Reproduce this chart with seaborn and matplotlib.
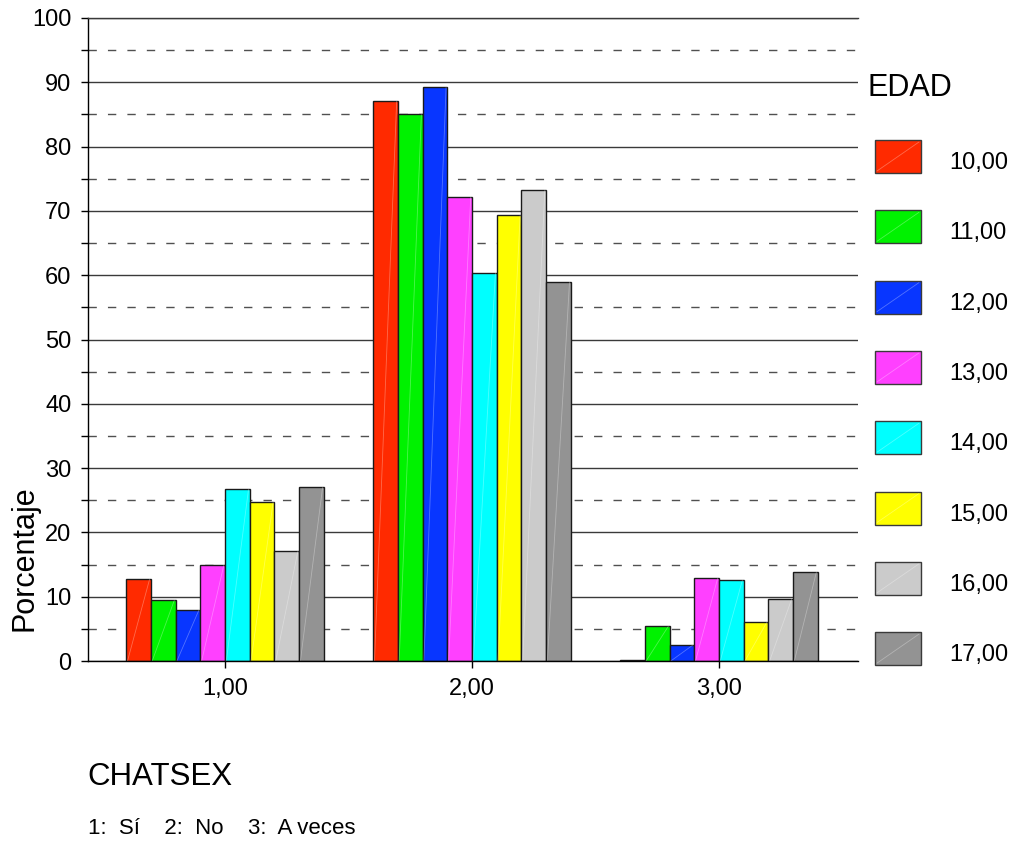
import matplotlib
matplotlib.use("Agg")
import numpy as np
import pandas as pd
import seaborn as sns
import matplotlib.pyplot as plt
from matplotlib.patches import Rectangle
from matplotlib.ticker import MultipleLocator

# ---- data ----
categories = ["1,00", "2,00", "3,00"]
ages = ["10,00", "11,00", "12,00", "13,00", "14,00", "15,00", "16,00", "17,00"]
v10 = [12.8, 87.1, 0.2]
v11 = [9.5, 85.0, 5.4]
v12 = [8.0, 89.2, 2.5]
v13 = [14.9, 72.2, 12.9]
v14 = [26.7, 60.4, 12.6]
v15 = [24.8, 69.3, 6.1]
v16 = [17.1, 73.3, 9.7]
v17 = [27.0, 59.0, 13.9]
series = [v10, v11, v12, v13, v14, v15, v16, v17]
colors = ["#FF2A00", "#00F200", "#0836FF", "#FF40FF", "#00FFFF", "#FFFF00", "#CBCBCB", "#939393"]

rows = []
for age, vals in zip(ages, series):
    for cat, v in zip(categories, vals):
        rows.append({"CHATSEX": cat, "EDAD": age, "Porcentaje": v})
df = pd.DataFrame(rows)

sns.set_style("white")
plt.rcParams["font.family"] = ["Liberation Sans", "DejaVu Sans"]
plt.rcParams["text.color"] = "black"
plt.rcParams["axes.labelcolor"] = "black"
plt.rcParams["xtick.color"] = "black"
plt.rcParams["ytick.color"] = "black"

W, H = 1013, 850
fig = plt.figure(figsize=(W / 100, H / 100), dpi=100)
ax = fig.add_axes([88 / W, 1 - 661 / H, 770 / W, 643 / H])

sns.barplot(data=df, x="CHATSEX", y="Porcentaje", hue="EDAD",
            order=categories, hue_order=ages, palette=colors,
            saturation=1, width=0.8, errorbar=None,
            edgecolor="#1a1a1a", linewidth=1, legend=False, ax=ax)

# faint diagonal texture on each bar
for p in list(ax.patches):
    x0, y0, w, h = p.get_x(), p.get_y(), p.get_width(), p.get_height()
    if h > 0.5:
        ax.plot([x0 + w * 0.05, x0 + w * 0.95], [y0, y0 + h], color="white",
                alpha=0.3, lw=0.6, zorder=p.get_zorder() + 0.1)

ax.set_ylim(0, 100)
ax.set_xlim(-0.555, 2.563)
ax.yaxis.set_major_locator(MultipleLocator(10))
ax.yaxis.set_minor_locator(MultipleLocator(5))
ax.set_axisbelow(True)
ax.grid(which="major", axis="y", color="#3a3a3a", lw=1, ls="-")
ax.grid(which="minor", axis="y", color="#505050", lw=1, ls=(0, (6, 8)))
ax.grid(axis="x", visible=False)

ax.set_xlabel("")
ax.set_ylabel("")
ax.tick_params(axis="both", which="both", direction="out", length=5, width=1,
               color="black", labelcolor="black", labelsize=17, pad=7, left=True, bottom=True)
ax.tick_params(axis="x", which="minor", bottom=False)

for s in ["left", "bottom"]:
    ax.spines[s].set_color("black")
    ax.spines[s].set_linewidth(1)
ax.spines["top"].set_color("#3a3a3a")
ax.spines["top"].set_linewidth(1)
ax.spines["right"].set_visible(False)

# texts
fig.text(24 / W, 1 - 558 / H, "Porcentaje", rotation=90, ha="center", va="center", fontsize=22, color="black")
fig.text(87 / W, 1 - 777 / H, "CHATSEX", fontsize=22.5, ha="left", va="center", color="black")
fig.text(88 / W, 1 - 829 / H, "1:  Sí    2:  No    3:  A veces", fontsize=16, ha="left", va="center", color="black")
fig.text(867 / W, 1 - 88 / H, "EDAD", fontsize=22, ha="left", va="center", color="black")

# legend
step = 70.3
for i, (lab, col) in enumerate(zip(ages, colors)):
    top = 140 + i * step
    r = Rectangle((875 / W, 1 - (top + 33) / H), 46 / W, 33 / H, transform=fig.transFigure,
                  facecolor=col, edgecolor="#3a3a3a", lw=1)
    fig.add_artist(r)
    fig.add_artist(plt.Line2D([877 / W, 919 / W], [1 - (top + 31) / H, 1 - (top + 2) / H],
                              transform=fig.transFigure, color="white", alpha=0.3, lw=0.6))
    fig.text(949 / W, 1 - (163 + i * step) / H, lab, fontsize=17, ha="left", va="center", color="black")

fig.savefig("out.png", dpi=100)
